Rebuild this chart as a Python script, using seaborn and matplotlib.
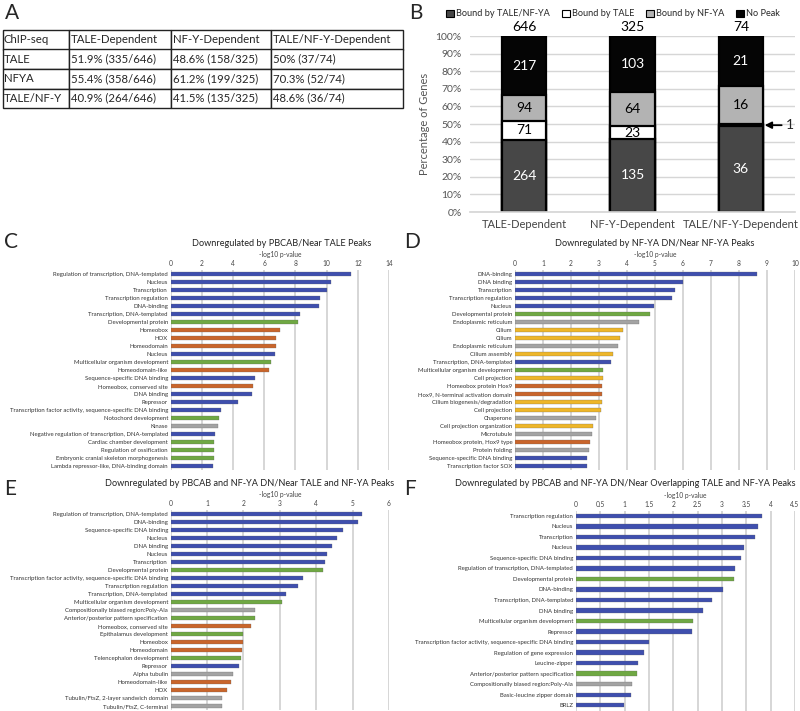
import numpy as np
import pandas as pd
import matplotlib
matplotlib.use('Agg')
import matplotlib.pyplot as plt
from matplotlib.patches import Patch
import seaborn as sns

sns.set_theme(style='white')
plt.rcParams['font.family'] = ['Lato', 'DejaVu Sans']

# ---- Panel A table ----
table_cols = ['ChIP-seq', 'TALE-Dependent', 'NF-Y-Dependent', 'TALE/NF-Y-Dependent']
table_rows = [
    ['TALE', '51.9% (335/646)', '48.6% (158/325)', '50% (37/74)'],
    ['NFYA', '55.4% (358/646)', '61.2% (199/325)', '70.3% (52/74)'],
    ['TALE/NF-Y', '40.9% (264/646)', '41.5% (135/325)', '48.6% (36/74)'],
]

# ---- Panel B stacked bars ----
groups = ['TALE-Dependent', 'NF-Y-Dependent', 'TALE/NF-Y-Dependent']
bound_both = [264, 135, 36]
bound_tale = [71, 23, 1]
bound_nfya = [94, 64, 16]
no_peak = [217, 103, 21]

# ---- Panel C ----
c_terms = ['Regulation of transcription, DNA-templated', 'Nucleus', 'Transcription',
           'Transcription regulation', 'DNA-binding', 'Transcription, DNA-templated',
           'Developmental protein', 'Homeobox', 'HOX', 'Homeodomain', 'Nucleus',
           'Multicellular organism development', 'Homeodomain-like',
           'Sequence-specific DNA binding', 'Homeobox, conserved site', 'DNA binding',
           'Repressor', 'Transcription factor activity, sequence-specific DNA binding',
           'Notochord development', 'Kinase',
           'Negative regulation of transcription, DNA-templated',
           'Cardiac chamber development', 'Regulation of ossification',
           'Embryonic cranial skeleton morphogenesis',
           'Lambda repressor-like, DNA-binding domain']
c_vals = [11.54, 10.26, 10.02, 9.6, 9.49, 8.27, 8.14, 7.0, 6.73, 6.73, 6.66, 6.41, 6.3,
          5.38, 5.3, 5.19, 4.33, 3.24, 3.1, 3.03, 2.86, 2.76, 2.76, 2.76, 2.71]
c_cats = ['b', 'b', 'b', 'b', 'b', 'b', 'g', 'o', 'o', 'o', 'b', 'g', 'o', 'b', 'o', 'b',
          'b', 'b', 'g', 'k', 'b', 'g', 'g', 'g', 'b']

# ---- Panel D ----
d_terms = ['DNA-binding', 'DNA binding', 'Transcription', 'Transcription regulation',
           'Nucleus', 'Developmental protein', 'Endoplasmic reticulum', 'Cilium', 'Cilium',
           'Endoplasmic reticulum', 'Cilium assembly', 'Transcription, DNA-templated',
           'Multicellular organism development', 'Cell projection',
           'Homeobox protein Hox9', 'Hox9, N-terminal activation domain',
           'Cilium biogenesis/degradation', 'Cell projection', 'Chaperone',
           'Cell projection organization', 'Microtubule', 'Homeobox protein, Hox9 type',
           'Protein folding', 'Sequence-specific DNA binding', 'Transcription factor SOX']
d_vals = [8.63, 5.99, 5.73, 5.6, 4.95, 4.81, 4.43, 3.87, 3.75, 3.69, 3.49, 3.44, 3.15,
          3.13, 3.11, 3.11, 3.1, 3.06, 2.88, 2.8, 2.76, 2.67, 2.63, 2.57, 2.56]
d_cats = ['b', 'b', 'b', 'b', 'b', 'g', 'k', 'y', 'y', 'k', 'y', 'b', 'g', 'y', 'o', 'o',
          'y', 'y', 'k', 'y', 'k', 'o', 'k', 'b', 'b']

# ---- Panel E ----
e_terms = ['Regulation of transcription, DNA-templated', 'DNA-binding',
           'Sequence-specific DNA binding', 'Nucleus', 'DNA binding', 'Nucleus',
           'Transcription', 'Developmental protein',
           'Transcription factor activity, sequence-specific DNA binding',
           'Transcription regulation', 'Transcription, DNA-templated',
           'Multicellular organism development', 'Compositionally biased region:Poly-Ala',
           'Anterior/posterior pattern specification', 'Homeobox, conserved site',
           'Epithalamus development', 'Homeobox', 'Homeodomain',
           'Telencephalon development', 'Repressor', 'Alpha tubulin', 'Homeodomain-like',
           'HOX', 'Tubulin/FtsZ, 2-layer sandwich domain', 'Tubulin/FtsZ, C-terminal']
e_vals = [5.27, 5.14, 4.74, 4.57, 4.44, 4.3, 4.25, 4.19, 3.64, 3.49, 3.17, 3.07, 2.33,
          2.33, 2.2, 2.0, 1.98, 1.95, 1.92, 1.88, 1.72, 1.67, 1.56, 1.42, 1.4]
e_cats = ['b', 'b', 'b', 'b', 'b', 'b', 'b', 'g', 'b', 'b', 'b', 'g', 'k', 'g', 'o', 'g',
          'o', 'o', 'g', 'b', 'k', 'o', 'o', 'k', 'k']

# ---- Panel F ----
f_terms = ['Transcription regulation', 'Nucleus', 'Transcription', 'Nucleus',
           'Sequence-specific DNA binding', 'Regulation of transcription, DNA-templated',
           'Developmental protein', 'DNA-binding', 'Transcription, DNA-templated',
           'DNA binding', 'Multicellular organism development', 'Repressor',
           'Transcription factor activity, sequence-specific DNA binding',
           'Regulation of gene expression', 'Leucine-zipper',
           'Anterior/posterior pattern specification',
           'Compositionally biased region:Poly-Ala', 'Basic-leucine zipper domain', 'BRLZ']
f_vals = [3.83, 3.75, 3.68, 3.46, 3.39, 3.27, 3.24, 3.03, 2.8, 2.6, 2.41, 2.38, 1.49,
          1.4, 1.28, 1.25, 1.16, 1.14, 0.99]
f_cats = ['b', 'b', 'b', 'b', 'b', 'b', 'g', 'b', 'b', 'b', 'g', 'b', 'b', 'b', 'b', 'g',
          'k', 'b', 'b']

cat_colors = {'b': '#3f4fae', 'g': '#6fa843', 'o': '#c9652b', 'k': '#a3a3a3', 'y': '#eeb629'}

W, H = 800, 711
fig = plt.figure(figsize=(W / 100, H / 100), dpi=100)


def rect(x0, y0, x1, y1):
    # pixel box (top-left origin) -> figure fraction
    return [x0 / W, 1 - y1 / H, (x1 - x0) / W, (y1 - y0) / H]


def letter(x, y, s):
    fig.text(x / W, 1 - y / H, s, fontsize=15, ha='left', va='center')


# ---------------- A ----------------
axA = fig.add_axes(rect(3, 30, 403, 108))
axA.axis('off')
tbl = axA.table(cellText=[table_cols] + table_rows, cellLoc='left',
                colWidths=[0.165, 0.255, 0.25, 0.33], bbox=[0, 0, 1, 1])
tbl.auto_set_font_size(False)
for (r, c), cell in tbl.get_celld().items():
    cell.set_fontsize(8.2)
    cell.set_linewidth(1.0)
    cell.set_edgecolor('#222222')
    cell.PAD = 0.015
letter(5, 13, 'A')

# ---------------- B ----------------
axB = fig.add_axes(rect(470, 36, 795, 212))
dfB = pd.DataFrame({'group': groups, 'both': bound_both, 'tale': bound_tale,
                    'nfya': bound_nfya, 'none': no_peak})
dfB['total'] = dfB[['both', 'tale', 'nfya', 'none']].sum(axis=1)
for col in ['both', 'tale', 'nfya', 'none']:
    dfB[col + '_pct'] = dfB[col] / dfB['total'] * 100
dfB['c1'] = dfB['both_pct']
dfB['c2'] = dfB['c1'] + dfB['tale_pct']
dfB['c3'] = dfB['c2'] + dfB['nfya_pct']
dfB['c4'] = dfB['c3'] + dfB['none_pct']

layer_colors = {'c4': '#050505', 'c3': '#b3b3b3', 'c2': '#ffffff', 'c1': '#474747'}
for col in ['c4', 'c3', 'c2', 'c1']:
    sns.barplot(data=dfB, x='group', y=col, color=layer_colors[col], width=0.41,
                edgecolor='black', linewidth=1.6, saturation=1, ax=axB)
axB.set_ylim(0, 100)
axB.set_xlim(-0.5, 2.5)
axB.set_yticks(np.arange(0, 101, 10))
axB.set_yticklabels([f'{v}%' for v in range(0, 101, 10)])
axB.yaxis.grid(True, color='#d6d6d6', lw=1)
axB.set_axisbelow(True)
for s in ['top', 'right', 'left']:
    axB.spines[s].set_visible(False)
axB.spines['bottom'].set_color('#d6d6d6')
axB.tick_params(axis='y', labelsize=7.5, labelcolor='#555555', length=0, pad=6)
axB.tick_params(axis='x', labelsize=8, labelcolor='#444444', length=0, pad=5)
axB.set_xlabel('')
axB.set_ylabel('Percentage of Genes', fontsize=8, color='#555555', labelpad=4)

for i, row in dfB.iterrows():
    segs = [('both', 0, row['c1'], 'white'), ('tale', row['c1'], row['c2'], 'black'),
            ('nfya', row['c2'], row['c3'], 'black'), ('none', row['c3'], row['c4'], 'white')]
    for key, lo, hi, tc in segs:
        if row[key] < 5:
            continue
        axB.text(i, (lo + hi) / 2, str(row[key]), ha='center', va='center',
                 fontsize=10, color=tc)
    axB.text(i, 101.5, str(row['total']), ha='center', va='bottom', fontsize=10,
             color='black', clip_on=False)
# arrow to the 1-gene segment
axB.annotate('1', xy=(2.22, (dfB.loc[2, 'c1'] + dfB.loc[2, 'c2']) / 2),
             xytext=(2.42, (dfB.loc[2, 'c1'] + dfB.loc[2, 'c2']) / 2),
             fontsize=10, va='center', ha='left',
             arrowprops=dict(arrowstyle='-|>', color='black', lw=1.3, shrinkA=1, shrinkB=0),
             annotation_clip=False)

handles = [Patch(facecolor=c, edgecolor='black', linewidth=0.8) for c in
           ['#474747', '#ffffff', '#b3b3b3', '#050505']]
fig.legend(handles, ['Bound by TALE/NF-YA', 'Bound by TALE', 'Bound by NF-YA', 'No Peak'],
           loc='center', bbox_to_anchor=(613 / W, 1 - 14 / H), ncol=4, frameon=False,
           fontsize=6.6, handlelength=0.9, handleheight=0.9, handletextpad=0.2,
           columnspacing=1.3)
letter(409, 13, 'B')


# ---------------- C-F ----------------
def go_panel(box, terms, vals, cats, xmax, step, title, title_xy):
    ax = fig.add_axes(rect(*box))
    df = pd.DataFrame({'key': [f't{i:02d}' for i in range(len(terms))], 'val': vals})
    pal = [cat_colors[c] for c in cats]
    sns.barplot(data=df, x='val', y='key', hue='key', palette=pal, legend=False,
                orient='h', width=0.42, saturation=1, edgecolor='#666666',
                linewidth=0.2, ax=ax)
    ax.set_yticks(range(len(terms)))
    ax.set_yticklabels(terms)
    ax.set_xlim(0, xmax)
    ticks = np.arange(0, xmax + step / 2, step)
    ax.set_xticks(ticks)
    ax.set_xticklabels([f'{t:g}' for t in ticks])
    ax.xaxis.tick_top()
    ax.xaxis.set_label_position('top')
    ax.set_xlabel('-log10 p-value', fontsize=4.8, color='#444444', labelpad=2)
    ax.set_ylabel('')
    ax.xaxis.grid(True, color='#d3d3d3', lw=1.3)
    ax.set_axisbelow(True)
    for s in ax.spines.values():
        s.set_visible(False)
    ax.tick_params(axis='x', labelsize=4.8, labelcolor='#444444', length=0, pad=2)
    ax.tick_params(axis='y', labelsize=4.3, labelcolor='#333333', length=0, pad=2)
    fig.text(title_xy[0] / W, 1 - title_xy[1] / H, title, fontsize=6.6, ha='center',
             va='center', color='#222222')
    return ax


go_panel((170.7, 270, 389, 470), c_terms, c_vals, c_cats, 14, 2,
         'Downregulated by PBCAB/Near TALE Peaks', (282, 243))
go_panel((515, 270, 795, 470), d_terms, d_vals, d_cats, 10, 1,
         'Downregulated by NF-YA DN/Near NF-YA Peaks', (655, 243))
go_panel((170.7, 510, 389, 710), e_terms, e_vals, e_cats, 6, 1,
         'Downregulated by PBCAB and NF-YA DN/Near TALE and NF-YA Peaks', (250, 484))
go_panel((576, 510.5, 795, 710.5), f_terms, f_vals, f_cats, 4.5, 0.5,
         'Downregulated by PBCAB and NF-YA DN/Near Overlapping TALE and NF-YA Peaks',
         (625, 484))
letter(4, 242, 'C')
letter(404, 242, 'D')
letter(4, 489, 'E')
letter(404, 489, 'F')

fig.savefig('out.png', dpi=100)
